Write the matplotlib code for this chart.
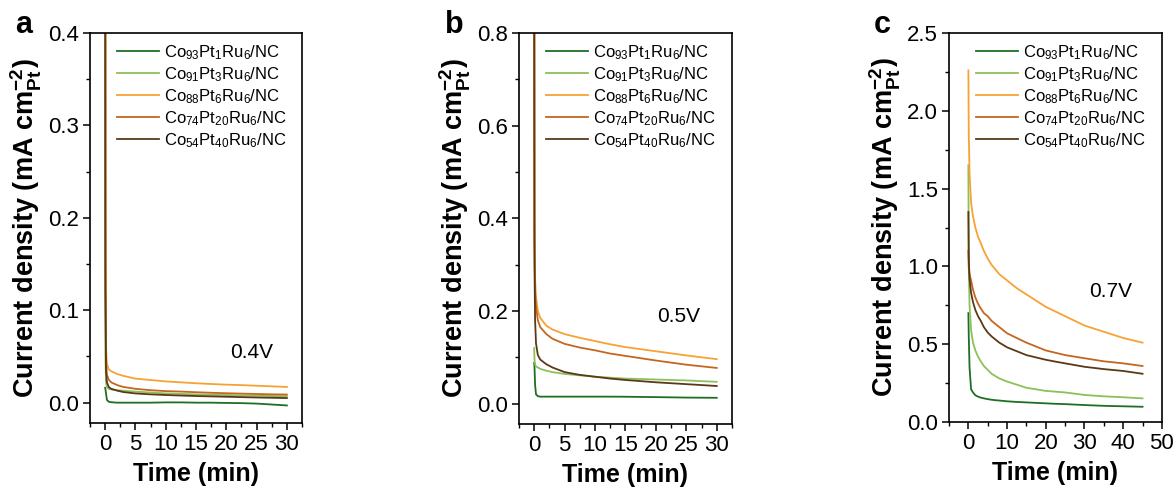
import matplotlib
matplotlib.use('Agg')
import matplotlib.pyplot as plt
from matplotlib.ticker import MultipleLocator

plt.rcParams['font.family'] = ['Liberation Sans', 'DejaVu Sans']
plt.rcParams['mathtext.fontset'] = 'custom'
plt.rcParams['mathtext.rm'] = 'Liberation Sans'
plt.rcParams['mathtext.it'] = 'Liberation Sans:italic'
plt.rcParams['mathtext.bf'] = 'Liberation Sans:bold'

# sample names (legend order)
labels = [r'Co$_{93}$Pt$_{1}$Ru$_{6}$/NC',
          r'Co$_{91}$Pt$_{3}$Ru$_{6}$/NC',
          r'Co$_{88}$Pt$_{6}$Ru$_{6}$/NC',
          r'Co$_{74}$Pt$_{20}$Ru$_{6}$/NC',
          r'Co$_{54}$Pt$_{40}$Ru$_{6}$/NC']
colors = ['#1f6e25', '#8cc05a', '#f7a233', '#c4661f', '#5a3918']

# panel a: 0.4 V
t_a = [0, 0.05, 0.15, 0.3, 0.6, 1, 2, 3, 5, 7.5, 10, 12.5, 15, 17.5, 20, 22.5, 25, 27.5, 30]
a_co93 = [0.016, 0.015, 0.010, 0.003, 0.001, 0.0005, 0.0, 0.0, 0.0, 0.0, 0.0003, 0.0003, 0.0, 0.0,
          -0.0003, -0.0005, -0.001, -0.002, -0.003]
a_co91 = [0.4, 0.05, 0.022, 0.017, 0.015, 0.0143, 0.0135, 0.013, 0.012, 0.011, 0.010, 0.0095, 0.009,
          0.0085, 0.0082, 0.0078, 0.0075, 0.0072, 0.007]
a_co88 = [1.5, 0.2, 0.06, 0.042, 0.036, 0.034, 0.031, 0.029, 0.026, 0.0245, 0.023, 0.022, 0.021,
          0.0202, 0.0195, 0.019, 0.0183, 0.0177, 0.017]
a_co74 = [1.2, 0.15, 0.045, 0.030, 0.025, 0.022, 0.019, 0.017, 0.015, 0.0135, 0.0125, 0.012, 0.0113,
          0.0107, 0.0102, 0.0098, 0.0094, 0.009, 0.0088]
a_co54 = [1.0, 0.12, 0.035, 0.022, 0.017, 0.015, 0.013, 0.0115, 0.010, 0.009, 0.0083, 0.0077, 0.0072,
          0.0068, 0.0064, 0.006, 0.0056, 0.0053, 0.005]

# panel b: 0.5 V
t_b = [0, 0.05, 0.15, 0.3, 0.6, 1, 2, 3, 5, 7.5, 10, 12.5, 15, 20, 25, 30]
b_co93 = [0.088, 0.08, 0.04, 0.02, 0.016, 0.015, 0.015, 0.015, 0.015, 0.015, 0.015, 0.015, 0.0148,
          0.014, 0.013, 0.0125]
b_co91 = [0.12, 0.095, 0.085, 0.080, 0.078, 0.075, 0.071, 0.068, 0.064, 0.061, 0.058, 0.056, 0.054,
          0.052, 0.050, 0.047]
b_co88 = [1.5, 0.40, 0.27, 0.23, 0.20, 0.185, 0.168, 0.160, 0.150, 0.142, 0.135, 0.128, 0.122,
          0.113, 0.104, 0.096]
b_co74 = [1.2, 0.35, 0.24, 0.21, 0.18, 0.165, 0.150, 0.140, 0.129, 0.121, 0.115, 0.108, 0.103,
          0.093, 0.084, 0.077]
b_co54 = [1.0, 0.30, 0.18, 0.13, 0.105, 0.095, 0.085, 0.078, 0.068, 0.062, 0.058, 0.054, 0.051,
          0.046, 0.042, 0.038]

# panel c: 0.7 V
t_c = [0, 0.1, 0.3, 0.7, 1.2, 1.8, 2.5, 3.2, 4, 5, 6, 7, 8, 10, 12.5, 15, 17.5, 20, 22.5, 25,
       30, 35, 40, 45]
c_co93 = [0.70, 0.55, 0.35, 0.21, 0.19, 0.172, 0.163, 0.157, 0.152, 0.147, 0.143, 0.140, 0.138,
          0.133, 0.129, 0.126, 0.123, 0.12, 0.117, 0.115, 0.109, 0.104, 0.101, 0.098]
c_co91 = [1.65, 1.0, 0.75, 0.59, 0.51, 0.46, 0.42, 0.39, 0.36, 0.335, 0.31, 0.295, 0.28, 0.26,
          0.24, 0.22, 0.21, 0.20, 0.195, 0.19, 0.174, 0.165, 0.159, 0.152]
c_co88 = [2.26, 1.85, 1.60, 1.41, 1.32, 1.25, 1.19, 1.15, 1.10, 1.05, 1.01, 0.98, 0.95, 0.91,
          0.86, 0.82, 0.78, 0.74, 0.71, 0.68, 0.62, 0.58, 0.54, 0.51]
c_co74 = [1.10, 1.00, 0.95, 0.91, 0.85, 0.80, 0.76, 0.73, 0.70, 0.68, 0.65, 0.63, 0.61, 0.57,
          0.54, 0.51, 0.485, 0.46, 0.445, 0.43, 0.41, 0.39, 0.377, 0.36]
c_co54 = [1.35, 1.05, 0.92, 0.83, 0.77, 0.72, 0.68, 0.65, 0.61, 0.575, 0.55, 0.53, 0.51, 0.48,
          0.455, 0.43, 0.415, 0.40, 0.388, 0.377, 0.355, 0.34, 0.328, 0.31]

panels = [
    dict(t=t_a, ys=[a_co93, a_co91, a_co88, a_co74, a_co54], letter='a', volt='0.4V',
         vpos=(24.2, 0.054), xlim=(-2.5, 32.5), ylim=(-0.022, 0.4), xmaj=5, xmin=2.5,
         ymaj=0.1, ymin=0.05, box=[0.0765, 0.142, 0.1803, 0.791]),
    dict(t=t_b, ys=[b_co93, b_co91, b_co88, b_co74, b_co54], letter='b', volt='0.5V',
         vpos=(23.7, 0.189), xlim=(-2.5, 32.5), ylim=(-0.044, 0.8), xmaj=5, xmin=2.5,
         ymaj=0.2, ymin=0.1, box=[0.4413, 0.140, 0.1811, 0.793]),
    dict(t=t_c, ys=[c_co93, c_co91, c_co88, c_co74, c_co54], letter='c', volt='0.7V',
         vpos=(36.7, 0.84), xlim=(-5, 50), ylim=(0, 2.5), xmaj=10, xmin=5,
         ymaj=0.5, ymin=0.25, box=[0.807, 0.144, 0.181, 0.789]),
]
letter_x = [15, 445, 874]

fig = plt.figure(figsize=(11.76, 4.93), dpi=100)

for p, lx in zip(panels, letter_x):
    ax = fig.add_axes(p['box'])
    for y, lab, col in zip(p['ys'], labels, colors):
        ax.plot(p['t'], y, color=col, lw=1.3, label=lab)
    ax.set_xlim(*p['xlim'])
    ax.set_ylim(*p['ylim'])
    ax.xaxis.set_major_locator(MultipleLocator(p['xmaj']))
    ax.xaxis.set_minor_locator(MultipleLocator(p['xmin']))
    ax.yaxis.set_major_locator(MultipleLocator(p['ymaj']))
    ax.yaxis.set_minor_locator(MultipleLocator(p['ymin']))
    ax.tick_params(which='major', direction='out', length=5, width=1.1, labelsize=16,
                   top=False, right=False, pad=3)
    ax.tick_params(which='minor', direction='out', length=3, width=1.0, top=False, right=False)
    for s in ax.spines.values():
        s.set_linewidth(1.2)
    ax.set_xlabel('Time (min)', fontsize=18, fontweight='bold', labelpad=5)
    ax.set_ylabel(r'Current density (mA cm$^{\mathbf{-2}}_{\mathbf{Pt}}$)', fontsize=19.5,
                  fontweight='bold', labelpad=3)
    ax.text(p['vpos'][0], p['vpos'][1], p['volt'], fontsize=15, ha='center', va='center')
    ax.legend(loc='upper left', bbox_to_anchor=(0.08, 1.0), frameon=False, fontsize=12,
              handlelength=2.5, handletextpad=0.3, labelspacing=0.2, borderaxespad=0.2)
    fig.text(lx / 1176, 1 - 33 / 493, p['letter'], fontsize=22, fontweight='bold',
             ha='left', va='baseline')

fig.savefig('out.png', dpi=100)
